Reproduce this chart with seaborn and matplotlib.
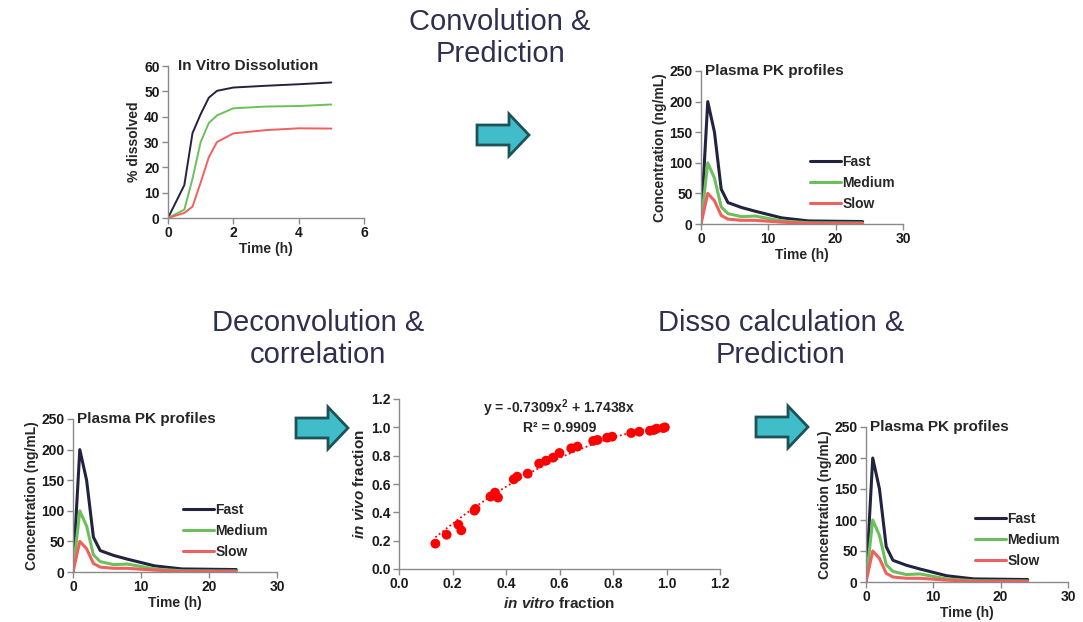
import numpy as np
import pandas as pd
import seaborn as sns
import matplotlib.pyplot as plt
from matplotlib.patches import Polygon

sns.set_style('ticks')
plt.rcParams['font.family'] = ['Liberation Sans', 'DejaVu Sans']
plt.rcParams['mathtext.fontset'] = 'custom'
plt.rcParams['mathtext.rm'] = 'Liberation Sans:bold'
plt.rcParams['mathtext.it'] = 'Liberation Sans:italic:bold'

# dados - dissolucao in vitro
diss_time = [0, 0.5, 0.75, 1, 1.25, 1.5, 2, 3, 4, 5]
diss_fast = [0, 13, 33.5, 41, 47.5, 50.2, 51.5, 52.2, 52.8, 53.5]
diss_medium = [0, 3.3, 15.5, 30, 37.5, 40.5, 43.3, 44, 44.2, 44.8]
diss_slow = [0, 2, 4.5, 14, 24, 30, 33.4, 34.7, 35.4, 35.3]

# dados - perfis PK plasmaticos
pk_time = [0, 1, 2, 3, 4, 6, 8, 12, 16, 24]
pk_fast = [0, 200, 150, 57, 35, 27, 21, 10, 5, 4]
pk_medium = [0, 100, 75, 28, 17, 12, 13, 5, 2, 1.5]
pk_slow = [0, 50, 38, 14, 8, 6, 6, 3, 1, 1]

# dados - correlacao in vitro / in vivo
invitro = [0.136, 0.178, 0.222, 0.233, 0.282, 0.286, 0.342, 0.359, 0.370, 0.429,
           0.442, 0.481, 0.524, 0.550, 0.576, 0.600, 0.644, 0.667, 0.726, 0.742,
           0.778, 0.797, 0.868, 0.898, 0.938, 0.953, 0.963, 0.988, 0.994]
invivo = [0.179, 0.242, 0.313, 0.273, 0.412, 0.424, 0.511, 0.539, 0.504, 0.633,
          0.652, 0.673, 0.744, 0.765, 0.786, 0.819, 0.852, 0.864, 0.904, 0.911,
          0.927, 0.934, 0.960, 0.969, 0.976, 0.981, 0.991, 0.995, 1.000]
fit_a2, fit_a1 = -0.7309, 1.7438

series = ['Fast', 'Medium', 'Slow']
cores = {'Fast': '#22233f', 'Medium': '#6cc05c', 'Slow': '#f0605e'}
title_color = '#2f3050'
spine_color = '#8a8a8a'

W, H = 1083, 622
fig = plt.figure(figsize=(W / 100, H / 100), dpi=100)


def box(left, right, top, bottom):
    return [left / W, 1 - bottom / H, (right - left) / W, (bottom - top) / H]


def estilo(ax):
    sns.despine(ax=ax)
    for s in ['left', 'bottom']:
        ax.spines[s].set_color(spine_color)
        ax.spines[s].set_linewidth(1.0)
    ax.tick_params(direction='out', length=4, width=1, color=spine_color,
                   labelsize=10, pad=2, labelcolor='#1a1a1a')
    for lab in ax.get_xticklabels() + ax.get_yticklabels():
        lab.set_fontweight('bold')


def pk_panel(rect):
    ax = fig.add_axes(rect)
    df = pd.DataFrame({'t': pk_time * 3,
                       'c': pk_fast + pk_medium + pk_slow,
                       'serie': sum([[s] * len(pk_time) for s in series], [])})
    sns.lineplot(data=df, x='t', y='c', hue='serie', palette=cores, lw=2.2, ax=ax)
    ax.set_xlim(0, 30)
    ax.set_ylim(0, 250)
    ax.set_xticks([0, 10, 20, 30])
    ax.set_yticks([0, 50, 100, 150, 200, 250])
    ax.set_xlabel('Time (h)', fontsize=10, fontweight='bold', labelpad=1)
    ax.set_ylabel('Concentration (ng/mL)', fontsize=10, fontweight='bold', labelpad=2)
    ax.text(0.02, 1.0, 'Plasma PK profiles', transform=ax.transAxes,
            fontsize=11, fontweight='bold', va='center', ha='left')
    ax.legend(title=None, frameon=False, loc='center left',
              bbox_to_anchor=(0.48, 0.27), handlelength=2.2,
              handletextpad=0.1, labelspacing=0.5,
              prop={'size': 10, 'weight': 'bold'})
    estilo(ax)
    return ax


# painel dissolucao
ax1 = fig.add_axes(box(168, 364, 66, 218))
df_d = pd.DataFrame({'t': diss_time * 3,
                     'p': diss_fast + diss_medium + diss_slow,
                     'serie': sum([[s] * len(diss_time) for s in series], [])})
sns.lineplot(data=df_d, x='t', y='p', hue='serie', palette=cores, lw=1.4,
             legend=False, ax=ax1)
ax1.set_xlim(0, 6)
ax1.set_ylim(0, 60)
ax1.set_xticks([0, 2, 4, 6])
ax1.set_yticks(range(0, 61, 10))
ax1.set_xlabel('Time (h)', fontsize=10, fontweight='bold', labelpad=1)
ax1.set_ylabel('% dissolved', fontsize=10, fontweight='bold', labelpad=2)
ax1.text(0.05, 1.0, 'In Vitro Dissolution', transform=ax1.transAxes,
         fontsize=11, fontweight='bold', va='center', ha='left')
estilo(ax1)

# paineis PK
pk_panel(box(701, 903, 71, 224))
pk_panel(box(73, 277, 419, 572))
pk_panel(box(866, 1068, 427, 582))

# painel correlacao
ax4 = fig.add_axes(box(399, 720, 399, 569))
sns.scatterplot(x=invitro, y=invivo, color='#ff0000', s=50, edgecolor='none', ax=ax4)
xs = np.linspace(min(invitro), max(invitro), 100)
ax4.plot(xs, fit_a2 * xs ** 2 + fit_a1 * xs, ls=(0, (1, 1.5)), color='#ff0000', lw=1.3)
ax4.set_xlim(0, 1.2)
ax4.set_ylim(0, 1.2)
ax4.set_xticks(np.arange(0, 1.21, 0.2))
ax4.set_yticks(np.arange(0, 1.21, 0.2))
ax4.xaxis.set_major_formatter(plt.FormatStrFormatter('%.1f'))
ax4.yaxis.set_major_formatter(plt.FormatStrFormatter('%.1f'))
ax4.set_xlabel(r'$\mathit{in\ vitro}$ fraction', fontsize=11, fontweight='bold', labelpad=3)
ax4.set_ylabel(r'$\mathit{in\ vivo}$ fraction', fontsize=11, fontweight='bold', labelpad=3)
ax4.text(0.6, 1.21, 'y = -0.7309x$^{2}$ + 1.7438x\nR² = 0.9909', ha='center', va='top',
         fontsize=10, fontweight='bold', linespacing=1.2)
estilo(ax4)

# titulos das etapas
fig.text(500 / W, 1 - 38 / H, 'Convolution &\nPrediction', ha='center', va='center',
         fontsize=21, color=title_color, linespacing=1.15)
fig.text(318 / W, 1 - 339 / H, 'Deconvolution &\ncorrelation', ha='center', va='center',
         fontsize=21, color=title_color, linespacing=1.15)
fig.text(781 / W, 1 - 339 / H, 'Disso calculation &\nPrediction', ha='center', va='center',
         fontsize=21, color=title_color, linespacing=1.15)


# setas
def seta(x0, yc):
    pts = [(x0, yc - 10), (x0 + 32, yc - 10), (x0 + 32, yc - 21), (x0 + 52, yc),
           (x0 + 32, yc + 21), (x0 + 32, yc + 10), (x0, yc + 10)]
    pts = [(px / W, 1 - py / H) for px, py in pts]
    fig.patches.append(Polygon(pts, closed=True, transform=fig.transFigure,
                               facecolor='#41bdc9', edgecolor='#1d5257', lw=2))


seta(477, 135)
seta(296, 428)
seta(756, 427)

plt.savefig('out.png', dpi=100)
